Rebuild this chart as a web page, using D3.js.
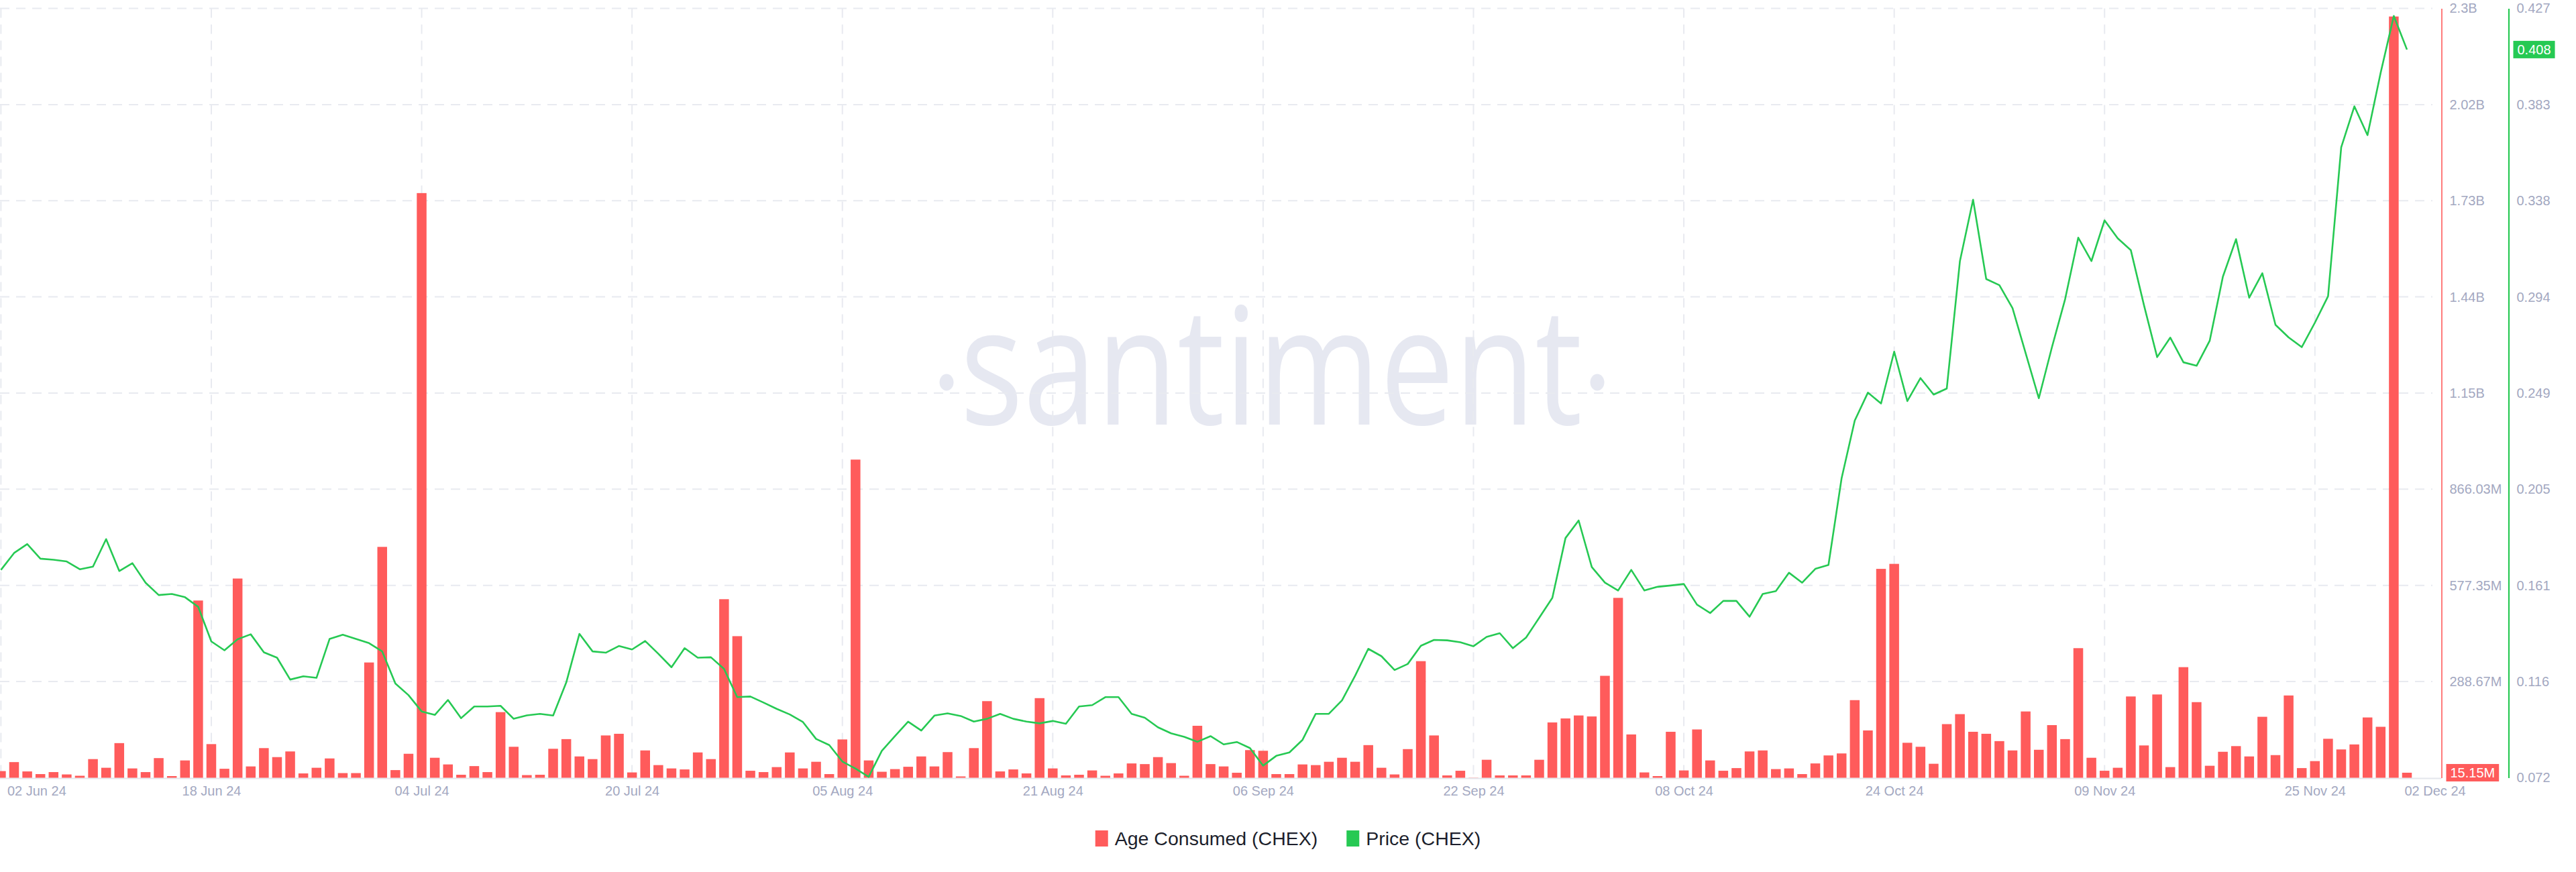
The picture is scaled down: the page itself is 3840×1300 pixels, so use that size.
<!DOCTYPE html>
<html><head><meta charset="utf-8">
<script src="https://cdn.jsdelivr.net/npm/d3@7"></script>
<style>
html,body{margin:0;padding:0;background:#fff;}
svg{display:block;}
</style></head>
<body>
<svg id="chart" width="3840" height="1300"></svg>
<script>
// ---------- DATA ----------
const startDate = "2024-06-02";
// Age Consumed (CHEX), millions, one value per day from 02 Jun 24 to 02 Dec 24
const ageConsumedM = [
 20,47,19,11,17,10,6,56,30,104,28,17,59,5,52,532,101,27,598,34,89,62,79,13,30,58,14,14,346,693,23,72,1755,60,40,9,35,17,197,93,8,9,
 87,116,64,56,127,132,16,82,38,28,25,76,56,536,425,21,17,32,76,28,48,11,115,955,52,18,26,33,64,34,77,4,89,230,19,25,13,239,28,7,
 9,22,6,13,43,41,62,44,6,156,41,34,15,83,81,11,11,40,38,48,60,48,98,30,10,86,350,127,7,21,0.5,54,7,7,7,54,166,178,187,184,306,
 540,130,16,5,138,22,145,52,21,29,79,82,26,28,11,43,67,73,233,142,627,642,105,93,42,161,191,138,132,110,82,199,84,158,116,389,60,21,30,244,97,
 250,32,332,227,36,78,95,64,183,68,247,29,50,117,85,100,181,153,2285,15.15
];
// Price (CHEX), USD
const priceUSD = [
 0.1679,0.1757,0.1798,0.1731,0.1726,0.1718,0.1682,0.1694,0.1821,0.1674,0.1710,0.1620,0.1563,0.1568,0.1553,0.1509,0.1349,0.1308,0.1359,0.1382,0.1299,0.1274,0.1173,0.1188,0.1181,0.1361,0.1380,0.1361,0.1341,0.1303,0.1155,0.1101,0.1026,0.1010,0.1079,0.0995,0.1049,0.1049,0.1052,0.0992,0.1008,0.1015,
 0.1007,0.1160,0.1384,0.1303,0.1297,0.1328,0.1312,0.1351,0.1292,0.1230,0.1318,0.1274,0.1276,0.1222,0.1092,0.1095,0.1067,0.1038,0.1012,0.0977,0.0899,0.0871,0.0795,0.0762,0.0724,0.0844,0.0912,0.0979,0.0938,0.1007,0.1017,0.1005,0.0979,0.0992,0.1015,0.0992,0.0979,0.0971,0.0982,0.0969,
 0.1049,0.1055,0.1092,0.1092,0.1015,0.0997,0.0953,0.0925,0.0909,0.0886,0.0912,0.0874,0.0885,0.0857,0.0776,0.0821,0.0837,0.0895,0.1015,0.1015,0.1077,0.1191,0.1315,0.1281,0.1217,0.1245,0.1329,0.1356,0.1354,0.1345,0.1327,0.1370,0.1387,0.1318,0.1367,0.1458,0.1550,0.1826,0.1907,0.1692,0.1620,
 0.1584,0.1679,0.1584,0.1601,0.1607,0.1614,0.1519,0.1480,0.1536,0.1536,0.1463,0.1568,0.1581,0.1666,0.1620,0.1684,0.1702,0.2102,0.2368,0.2497,0.2447,0.2686,0.2458,0.2564,0.2488,0.2516,0.3104,0.3387,0.3021,0.2993,0.2887,0.2679,0.2471,0.2707,0.2928,0.3212,0.3104,0.3292,0.3209,0.3154,0.2900,
 0.2661,0.2751,0.2637,0.2621,0.2737,0.3032,0.3205,0.2935,0.3048,0.2810,0.2752,0.2707,0.2820,0.2942,0.3629,0.3818,0.3685,0.3973,0.4235,0.4080
];
const xTickDates = ["2024-06-02","2024-06-18","2024-07-04","2024-07-20","2024-08-05","2024-08-21","2024-09-06","2024-09-22","2024-10-08","2024-10-24","2024-11-09","2024-11-25","2024-12-02"];
const xTickLabels = ["02 Jun 24","18 Jun 24","04 Jul 24","20 Jul 24","05 Aug 24","21 Aug 24","06 Sep 24","22 Sep 24","08 Oct 24","24 Oct 24","09 Nov 24","25 Nov 24","02 Dec 24"];
const ageTickValuesM = [0,288.676,577.35,866.03,1154.7,1443.4,1732.06,2020.7,2309.4];
const ageTickLabels = ["0","288.67M","577.35M","866.03M","1.15B","1.44B","1.73B","2.02B","2.3B"];
const priceTickValues = [0.072,0.116375,0.16075,0.205125,0.2495,0.293875,0.33825,0.382625,0.427];
const priceTickLabels = ["0.072","0.116","0.161","0.205","0.249","0.294","0.338","0.383","0.427"];
const seriesNames = ["Age Consumed (CHEX)","Price (CHEX)"];
const lastAgeLabel = "15.15M";
const lastPriceLabel = "0.408";

(function () {
// ---------- STYLE / LAYOUT ----------
const RED = "#FF5B5B", GREEN = "#26C953", GREY = "#A3A8C1", GRID = "#E8EAF0";
const FONT = "'Liberation Sans', Arial, sans-serif";
const plotTop = 12.5, plotBottom = 1159.5, plotRight = 3626, redAxisX = 3639.5, greenAxisX = 3739.5;

const parse = d3.utcParse("%Y-%m-%d");
const d0 = parse(startDate);
const dates = ageConsumedM.map((_, i) => d3.utcDay.offset(d0, i));
const data = dates.map((d, i) => ({date: d, age: ageConsumedM[i], price: priceUSD[i]}));

const x = d3.scaleUtc().domain([dates[0], dates[dates.length - 1]]).range([1.4, 3588]);
const yAge = d3.scaleLinear().domain([0, 2309.4]).range([plotBottom, plotTop]);
const yPrice = d3.scaleLinear().domain([0.072, 0.427]).range([plotBottom, plotTop]);

const svg = d3.select("#chart");
svg.append("rect").attr("width", 3840).attr("height", 1300).attr("fill", "#fff");

// watermark
const wm = svg.append("g").attr("fill", "#E6E8F1");
wm.append("text")
  .attr("transform", "translate(1895,633) scale(0.81,1)")
  .attr("text-anchor", "middle")
  .attr("font-family", "'Open Sans', sans-serif")
  .attr("font-size", 243)
  .text("santiment");
wm.append("ellipse").attr("cx", 1411).attr("cy", 570).attr("rx", 10.5).attr("ry", 12.5);
wm.append("ellipse").attr("cx", 2381).attr("cy", 570).attr("rx", 10.5).attr("ry", 12.5);

// grid
const grid = svg.append("g").attr("stroke", GRID).attr("stroke-width", 2).attr("stroke-dasharray", "14,10");
grid.selectAll("line.h").data(ageTickValuesM.slice(1)).join("line")
  .attr("x1", 0).attr("x2", plotRight).attr("y1", d => yAge(d)).attr("y2", d => yAge(d));
grid.selectAll("line.v").data(xTickDates.slice(0, -1)).join("line")
  .attr("x1", d => x(parse(d))).attr("x2", d => x(parse(d))).attr("y1", plotTop).attr("y2", plotBottom);

// baseline
svg.append("line").attr("x1", 0).attr("x2", redAxisX).attr("y1", plotBottom + 1).attr("y2", plotBottom + 1)
  .attr("stroke", "#E4E6EC").attr("stroke-width", 2);

// clip
svg.append("clipPath").attr("id", "plotclip").append("rect")
  .attr("x", 0).attr("y", 0).attr("width", plotRight).attr("height", plotBottom + 2);

const barW = 14.5;
svg.append("g").attr("clip-path", "url(#plotclip)").attr("fill", RED)
  .selectAll("rect").data(data).join("rect")
  .attr("x", d => x(d.date) - barW / 2)
  .attr("width", barW)
  .attr("y", d => yAge(d.age))
  .attr("height", d => plotBottom - yAge(d.age));

const line = d3.line().x(d => x(d.date)).y(d => yPrice(d.price));
svg.append("path").datum(data).attr("clip-path", "url(#plotclip)")
  .attr("fill", "none").attr("stroke", GREEN).attr("stroke-width", 2.6)
  .attr("stroke-linejoin", "round").attr("d", line);

// right axes
const ageAxis = d3.axisRight(yAge).tickValues(ageTickValuesM.slice(1))
  .tickFormat(d => ageTickLabels[ageTickValuesM.indexOf(d)]).tickSize(0).tickSizeOuter(0).tickPadding(12);
const gA = svg.append("g").attr("transform", `translate(${redAxisX},0)`).call(ageAxis);
gA.select(".domain").attr("stroke", RED).attr("stroke-width", 1.6);
gA.selectAll("text").attr("fill", GREY).attr("font-family", FONT).attr("font-size", 20);

const priceAxis = d3.axisRight(yPrice).tickValues(priceTickValues)
  .tickFormat((d, i) => priceTickLabels[i]).tickSize(0).tickSizeOuter(0).tickPadding(12);
const gP = svg.append("g").attr("transform", `translate(${greenAxisX},0)`).call(priceAxis);
gP.select(".domain").attr("stroke", GREEN).attr("stroke-width", 2.2);
gP.selectAll("text").attr("fill", GREY).attr("font-family", FONT).attr("font-size", 20);

// x axis
const xAxis = d3.axisBottom(x).tickValues(xTickDates.map(parse))
  .tickFormat((d, i) => xTickLabels[i]).tickSize(0).tickSizeOuter(0).tickPadding(12.5);
const gX = svg.append("g").attr("transform", `translate(0,${plotBottom})`).call(xAxis);
gX.select(".domain").remove();
gX.selectAll("text").attr("fill", GREY).attr("font-family", FONT).attr("font-size", 20);
const xTexts = gX.selectAll("text").nodes();
d3.select(xTexts[0]).attr("text-anchor", "start").attr("dx", 9);
d3.select(xTexts[xTexts.length - 1]).attr("text-anchor", "start").attr("dx", -4);

// last value badges
function badge(xl, yc, label, color) {
  const g = svg.append("g");
  const t = g.append("text").attr("x", xl + 6).attr("y", yc).attr("dy", "0.36em")
    .attr("fill", "#fff").attr("font-family", FONT).attr("font-size", 20).text(label);
  const w = t.node().getComputedTextLength();
  g.insert("rect", "text").attr("x", xl).attr("y", yc - 13).attr("width", w + 12).attr("height", 26).attr("fill", color);
}
badge(redAxisX + 7, yAge(ageConsumedM[ageConsumedM.length - 1]), lastAgeLabel, RED);
badge(greenAxisX + 7, yPrice(priceUSD[priceUSD.length - 1]), lastPriceLabel, GREEN);

// legend
const lg = svg.append("g").attr("font-family", FONT).attr("font-size", 28.5).attr("fill", "#1d1f2c");
const legendColors = [RED, GREEN];
const items = seriesNames.map((name, i) => {
  const g = lg.append("g");
  g.append("rect").attr("width", 19).attr("height", 24).attr("y", -12).attr("fill", legendColors[i]);
  const t = g.append("text").attr("x", 29).attr("dy", "0.36em").text(name);
  return {g, w: 29 + t.node().getComputedTextLength()};
});
const gap = 43;
const total = items.reduce((s, it) => s + it.w, 0) + gap * (items.length - 1);
let cx = 1920 - total / 2;
items.forEach(it => { it.g.attr("transform", `translate(${cx},1250)`); cx += it.w + gap; });
})();
</script>
</body></html>
